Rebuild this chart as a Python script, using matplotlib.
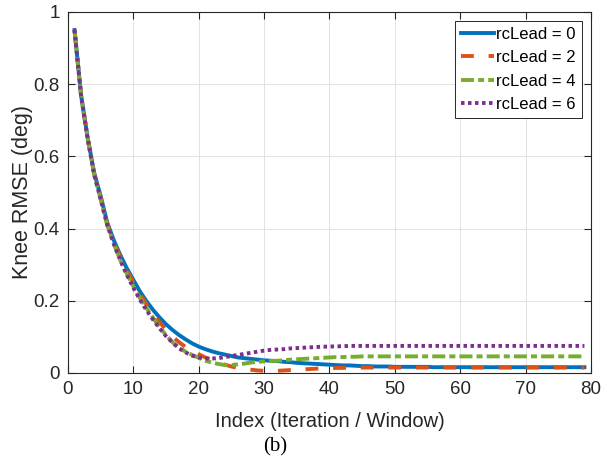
import numpy as np
import matplotlib
matplotlib.use("Agg")
import matplotlib.pyplot as plt

# Knee RMSE per index
index = np.arange(1, 80)

rmse_lead0 = [0.950, 0.770, 0.653, 0.555, 0.490, 0.417, 0.368, 0.327, 0.290, 0.258,
              0.226, 0.199, 0.175, 0.154, 0.135, 0.119, 0.105, 0.093, 0.082, 0.073,
              0.066, 0.060, 0.055, 0.051, 0.047, 0.043, 0.041, 0.039, 0.037, 0.035,
              0.034, 0.033, 0.031, 0.030, 0.028, 0.027, 0.026, 0.025, 0.024, 0.023,
              0.022, 0.021, 0.021, 0.020, 0.019, 0.019, 0.018, 0.018, 0.018, 0.017,
              0.017, 0.017, 0.017, 0.017, 0.017, 0.016, 0.016, 0.016, 0.016, 0.016,
              0.016, 0.016, 0.016, 0.016, 0.016, 0.016, 0.016, 0.016, 0.016, 0.016,
              0.016, 0.016, 0.016, 0.016, 0.016, 0.016, 0.016, 0.016, 0.016]

rmse_lead2 = [0.950, 0.770, 0.652, 0.553, 0.487, 0.414, 0.364, 0.322, 0.285, 0.251,
              0.219, 0.190, 0.164, 0.141, 0.120, 0.101, 0.085, 0.072, 0.062, 0.052,
              0.043, 0.036, 0.029, 0.023, 0.018, 0.014, 0.011, 0.009, 0.007, 0.006,
              0.006, 0.006, 0.007, 0.008, 0.009, 0.010, 0.011, 0.012, 0.013, 0.013,
              0.014, 0.014, 0.015, 0.015, 0.015, 0.015, 0.015, 0.015, 0.015, 0.015,
              0.015, 0.015, 0.015, 0.015, 0.015, 0.015, 0.015, 0.015, 0.015, 0.015,
              0.015, 0.015, 0.015, 0.015, 0.015, 0.015, 0.015, 0.015, 0.015, 0.015,
              0.015, 0.015, 0.015, 0.015, 0.015, 0.015, 0.015, 0.015, 0.015]

rmse_lead4 = [0.950, 0.768, 0.650, 0.550, 0.481, 0.410, 0.358, 0.313, 0.275, 0.240,
              0.208, 0.180, 0.153, 0.127, 0.105, 0.085, 0.070, 0.059, 0.050, 0.042,
              0.034, 0.029, 0.025, 0.022, 0.022, 0.024, 0.026, 0.029, 0.031, 0.032,
              0.033, 0.034, 0.035, 0.037, 0.038, 0.039, 0.040, 0.041, 0.042, 0.043,
              0.044, 0.044, 0.045, 0.045, 0.046, 0.046, 0.046, 0.046, 0.046, 0.046,
              0.046, 0.046, 0.046, 0.046, 0.046, 0.046, 0.046, 0.046, 0.046, 0.046,
              0.046, 0.046, 0.046, 0.046, 0.046, 0.046, 0.046, 0.046, 0.046, 0.046,
              0.046, 0.046, 0.046, 0.046, 0.046, 0.046, 0.046, 0.046, 0.046]

rmse_lead6 = [0.950, 0.768, 0.650, 0.550, 0.481, 0.410, 0.358, 0.312, 0.272, 0.236,
              0.203, 0.174, 0.148, 0.124, 0.102, 0.084, 0.068, 0.057, 0.048, 0.043,
              0.040, 0.040, 0.041, 0.044, 0.047, 0.050, 0.053, 0.056, 0.059, 0.062,
              0.064, 0.065, 0.066, 0.068, 0.069, 0.070, 0.071, 0.072, 0.073, 0.073,
              0.074, 0.074, 0.075, 0.075, 0.075, 0.075, 0.075, 0.075, 0.075, 0.075,
              0.075, 0.075, 0.075, 0.075, 0.075, 0.075, 0.075, 0.075, 0.075, 0.075,
              0.075, 0.075, 0.075, 0.075, 0.075, 0.075, 0.075, 0.075, 0.075, 0.075,
              0.075, 0.075, 0.075, 0.075, 0.075, 0.075, 0.075, 0.075, 0.075]

series_labels = ["rcLead = 0", "rcLead = 2", "rcLead = 4", "rcLead = 6"]
x_ticks = [0, 10, 20, 30, 40, 50, 60, 70, 80]
y_ticks = [0, 0.2, 0.4, 0.6, 0.8, 1]
y_tick_labels = ["0", "0.2", "0.4", "0.6", "0.8", "1"]

plt.rcParams['font.family'] = ['Liberation Sans', 'DejaVu Sans']

dark = '#262626'
fig = plt.figure(figsize=(6.07, 4.59), dpi=100)
ax = fig.add_axes([0.112, 0.1874, 0.8616, 0.7865])

lw = 2.8
ax.plot(index, rmse_lead0, color='#0072BD', lw=lw, ls='-', label=series_labels[0])
ax.plot(index, rmse_lead2, color='#D95319', lw=lw, ls=(0, (3.3, 3.8)), label=series_labels[1])
ax.plot(index, rmse_lead4, color='#77AC30', lw=lw, ls=(0, (3.35, 1.05, 1.55, 1.05)), label=series_labels[2])
ax.plot(index, rmse_lead6, color='#7E2F8E', lw=lw, ls=(0, (0.9, 0.9)), label=series_labels[3])

ax.set_xlim(0, 80)
ax.set_ylim(0, 1)
ax.set_xticks(x_ticks)
ax.set_yticks(y_ticks)
ax.set_yticklabels(y_tick_labels)

ax.set_axisbelow(True)
ax.grid(True, color='#e2e2e2', lw=0.7)
for s in ax.spines.values():
    s.set_color(dark)
    s.set_linewidth(0.8)
ax.tick_params(direction='in', top=True, right=True, length=5, width=0.8,
               color=dark, labelcolor=dark, labelsize=13.5)
ax.tick_params(axis='x', pad=6)
ax.tick_params(axis='y', pad=6)

ax.set_xlabel('Index (Iteration / Window)', fontsize=14.5, color=dark, labelpad=10)
ax.set_ylabel('Knee RMSE (deg)', fontsize=15.5, color=dark, labelpad=0)

leg = ax.legend(loc='upper right', fontsize=12, fancybox=False, framealpha=1,
                edgecolor=dark, handlelength=2.0, handletextpad=0.15,
                labelspacing=0.5, borderpad=0.35, borderaxespad=0.55)
leg.get_frame().set_linewidth(0.7)

fig.text(275 / 607, 1 - 447 / 459, '(b)', family='Liberation Serif', fontsize=15,
         ha='center', va='center', color='black')

fig.savefig('out.png', dpi=100)
